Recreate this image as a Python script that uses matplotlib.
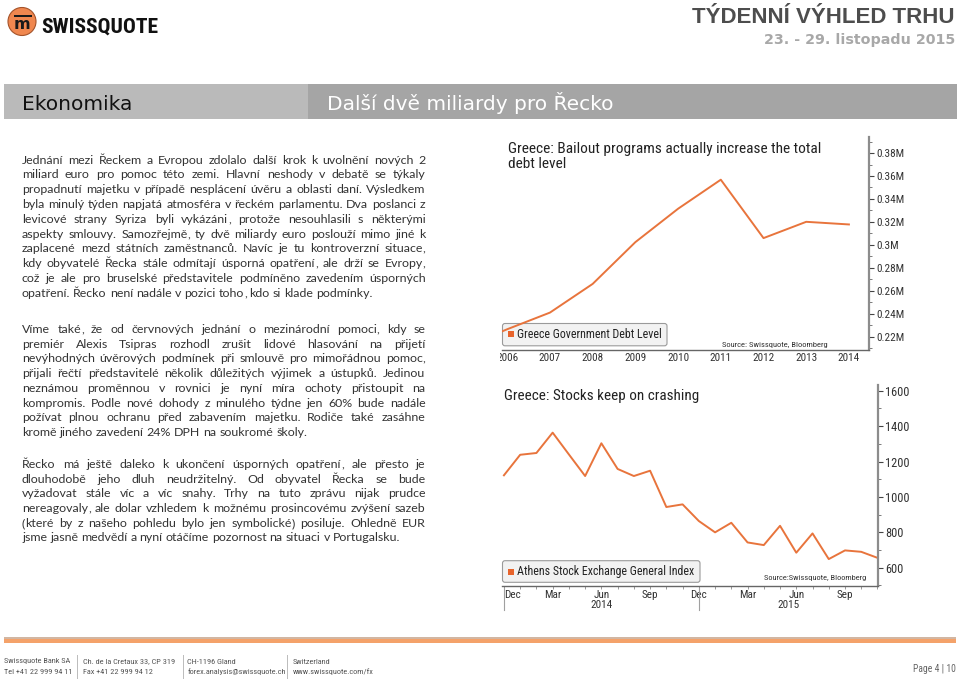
import matplotlib
matplotlib.use("Agg")
import matplotlib.pyplot as plt
import matplotlib.ticker as mticker
from matplotlib import font_manager as fm
from matplotlib.patches import Rectangle, Circle, FancyBboxPatch
from matplotlib.font_manager import FontProperties
from matplotlib.transforms import Bbox, TransformedBbox, blended_transform_factory

W, H = 960, 681
SANS = ['Liberation Sans', 'DejaVu Sans']
plt.rcParams['font.family'] = SANS

# pick a narrow face for the chart texts if one is installed
names = {f.name for f in fm.fontManager.ttflist}
cond_dejavu = any(f.name == 'DejaVu Sans' and f.stretch == 'condensed'
                  for f in fm.fontManager.ttflist)
if 'Roboto Condensed' in names:
    CH = {'family': 'Roboto Condensed'}
elif cond_dejavu:
    CH = {'family': 'DejaVu Sans', 'stretch': 'condensed'}
else:
    CH = {'family': 'Liberation Sans'}
BODY = 'Lato' if 'Lato' in names else 'DejaVu Sans'

# ---- data ----
debt_years = [2005, 2006, 2007, 2008, 2009, 2010, 2011, 2012, 2013, 2014]
debt_level = [0.211, 0.2265, 0.241, 0.266, 0.3024, 0.3315, 0.3568, 0.3059, 0.3201, 0.3178]
debt_ticks = [0.22, 0.24, 0.26, 0.28, 0.30, 0.32, 0.34, 0.36, 0.38]
year_ticks = [2006, 2007, 2008, 2009, 2010, 2011, 2012, 2013, 2014]

# monthly, Dec 2013 .. Nov 2015
ase_month = list(range(24))
ase_index = [1122, 1238, 1248, 1363, 1240, 1118, 1303, 1158, 1118, 1148, 943, 958,
             864, 800, 854, 743, 728, 837, 685, 794, 649, 698, 690, 656]
ase_ticks = [600, 800, 1000, 1200, 1400, 1600]
month_pos = [0, 3, 6, 9, 12, 15, 18, 21]
month_lbl = ['Dec', 'Mar', 'Jun', 'Sep', 'Dec', 'Mar', 'Jun', 'Sep']
year_starts = [0, 12]
year_lbl = ['2014', '2015']

para1 = [
    "Jednání mezi Řeckem a Evropou zdolalo další krok k uvolnění nových 2",
    "miliard euro pro pomoc této zemi. Hlavní neshody v debatě se týkaly",
    "propadnutí majetku v případě nesplácení úvěru a oblasti daní. Výsledkem",
    "byla minulý týden napjatá atmosféra v řeckém parlamentu. Dva poslanci z",
    "levicové strany Syriza byli vykázáni, protože nesouhlasili s některými",
    "aspekty smlouvy. Samozřejmě, ty dvě miliardy euro poslouží mimo jiné k",
    "zaplacené mezd státních zaměstnanců. Navíc je tu kontroverzní situace,",
    "kdy obyvatelé Řecka stále odmítají úsporná opatření, ale drží se Evropy,",
    "což je ale pro bruselské představitele podmíněno zavedením úsporných",
    "opatření. Řecko není nadále v pozici toho, kdo si klade podmínky.",
]
para2 = [
    "Víme také, že od červnových jednání o mezinárodní pomoci, kdy se",
    "premiér Alexis Tsipras rozhodl zrušit lidové hlasování na přijetí",
    "nevýhodných úvěrových podmínek při smlouvě pro mimořádnou pomoc,",
    "přijali řečtí představitelé několik důležitých výjimek a ústupků. Jedinou",
    "neznámou proměnnou v rovnici je nyní míra ochoty přistoupit na",
    "kompromis. Podle nové dohody z minulého týdne jen 60% bude nadále",
    "požívat plnou ochranu před zabavením majetku. Rodiče také zasáhne",
    "kromě jiného zavedení 24% DPH na soukromé školy.",
]
para3 = [
    "Řecko má ještě daleko k ukončení úsporných opatření, ale přesto je",
    "dlouhodobě jeho dluh neudržitelný. Od obyvatel Řecka se bude",
    "vyžadovat stále víc a víc snahy. Trhy na tuto zprávu nijak prudce",
    "nereagovaly, ale dolar vzhledem k možnému prosincovému zvýšení sazeb",
    "(které by z našeho pohledu bylo jen symbolické) posiluje. Ohledně EUR",
    "jsme jasně medvědí a nyní otáčíme pozornost na situaci v Portugalsku.",
]


def box(l, t, r, b):
    return [l / W, 1 - b / H, (r - l) / W, (b - t) / H]


fig = plt.figure(figsize=(9.6, 6.81), dpi=100, facecolor='white')
bg = fig.add_axes([0, 0, 1, 1])
bg.set_xlim(0, W)
bg.set_ylim(H, 0)
bg.set_axis_off()
renderer = fig.canvas.get_renderer()


def fit(t, width):
    # scale font so the text spans the width seen in the reference
    w = t.get_window_extent(renderer).width
    t.set_fontsize(t.get_fontsize() * width / w)
    return t.get_fontsize()


def size_for(s, width, **kw):
    t = bg.text(0, 0, s, fontsize=10, **kw)
    w = t.get_window_extent(renderer).width
    t.remove()
    return 10 * width / w


# ---- header ----
bg.add_patch(Circle((22, 21.5), 14, fc='#f0874f', ec='#a4532a', lw=0.8))
bg.add_patch(Rectangle((13.5, 14.6), 18, 2.6, fc='#1a1a1a'))
bg.text(22, 24.3, 'm', ha='center', va='center', fontsize=11.5, weight='bold',
        color='#1a1a1a', family='DejaVu Sans')
fit(bg.text(41.7, 32.3, 'SWISSQUOTE', va='baseline', fontsize=16, weight='bold',
            color='#111111', **CH), 117.3)

bg.text(955, 23.3, 'TÝDENNÍ VÝHLED TRHU', ha='right', va='baseline', fontsize=16,
        weight='bold', color='#4d4d4d')
bg.text(955, 44.3, '23. - 29. listopadu 2015', ha='right', va='baseline', fontsize=10.3,
        weight='bold', color='#a8a8a8', family='DejaVu Sans')

bg.add_patch(Rectangle((4, 84), 304, 35, fc='#bababa', ec='none'))
bg.add_patch(Rectangle((308, 84), 649, 35, fc='#a5a5a5', ec='none'))
bg.text(22, 110, 'Ekonomika', va='baseline', fontsize=14.5, color='#111111', family='DejaVu Sans')
bg.text(327, 110, 'Další dvě miliardy pro Řecko', va='baseline', fontsize=14.5,
        color='white', family='DejaVu Sans')


# ---- body text, justified word by word ----
def pieces(word):
    # commas / brackets go in their own text so the word keeps its baseline
    head, tail = '', ''
    if word.startswith('('):
        head, word = '(', word[1:]
    if word.endswith(',') or word.endswith(')'):
        word, tail = word[:-1], word[-1]
    return [p for p in (head, word, tail) if p]


def justify(lines, y0, dy, x0=22, x1=425.5):
    for i, line in enumerate(lines):
        words = line.split()
        y = round(y0 + i * dy)
        groups = []
        for w in words:
            parts = []
            for p in pieces(w):
                t = bg.text(0, y, p, va='baseline', fontsize=8.9, color='#333333', family=BODY)
                parts.append((t, t.get_window_extent(renderer).width))
            groups.append(parts)
        widths = [sum(pw for _, pw in g) for g in groups]
        if i == len(lines) - 1:
            gap = 3.0
        else:
            gap = (x1 - x0 - sum(widths)) / (len(words) - 1)
        x = x0
        for g, w in zip(groups, widths):
            xp = x
            for t, pw in g:
                t.set_x(xp)
                xp += pw
            x += w + gap


justify(para1, 163.7, 14.8)
justify(para2, 333.0, 14.72)
justify(para3, 468.0, 14.67)

# ---- chart 1: debt level ----
t1 = bg.text(508, 149.3, 'Greece: Bailout programs actually increase the total', va='center',
             fontsize=10, color='#222222', **CH)
fs = fit(t1, 311)
bg.text(508, 164, 'debt level', va='center', fontsize=fs, color='#222222', **CH)
bg.add_patch(FancyBboxPatch((502.5, 323.5), 164.5, 22.3,
                            boxstyle='round,pad=0,rounding_size=2.5',
                            fc='#f2f2f2', ec='#9a9a9a', lw=0.8))
bg.add_patch(Rectangle((508.3, 331.2), 6, 6, fc='#e8642c', ec='none'))
fit(bg.text(517, 334.5, 'Greece Government Debt Level', va='center', fontsize=8,
            color='#222222', **CH), 144.5)
fit(bg.text(721.7, 345.3, 'Source: Swissquote, Bloomberg', va='center', fontsize=6,
            color='#333333', **CH), 106)

ylab_fp = FontProperties(size=size_for('0.38M', 28, **CH), **CH)
xlab_fp = FontProperties(size=size_for('2007', 21.7, **CH), **CH)

ax1 = fig.add_axes(box(501.7, 137, 869, 350))
ax1.patch.set_visible(False)
ax1.plot(debt_years, debt_level, color='#e8743c', lw=1.4)
ax1.set_xlim(2005.87, 2014.47)
ax1.set_ylim(0.2084, 0.394)
ax1.yaxis.tick_right()
ax1.set_yticks(debt_ticks, labels=[f"{v:g}M" for v in debt_ticks],
               fontproperties=ylab_fp, color='#333333')
ax1.yaxis.set_minor_locator(mticker.MultipleLocator(0.01))
ax1.set_xticks(year_ticks, labels=[str(y) for y in year_ticks],
               fontproperties=xlab_fp, color='#333333')
for s in ['left', 'top']:
    ax1.spines[s].set_visible(False)
ax1.spines['right'].set_color('#8c8c8c')
ax1.spines['right'].set_linewidth(1.6)
ax1.spines['bottom'].set_color('#666666')
ax1.spines['bottom'].set_linewidth(1.0)
ax1.tick_params(axis='y', which='major', length=3.5, width=0.8, color='#444444', pad=1.5)
ax1.tick_params(axis='y', which='minor', length=2, width=0.6, color='#666666')
ax1.tick_params(axis='x', length=0, pad=2.5)
cb = TransformedBbox(Bbox([[500 / W, 0], [1, 1]]), fig.transFigure)
for t in ax1.xaxis.get_major_ticks():
    t.label1.set_clip_box(cb)
    t.label1.set_clip_on(True)

# ---- chart 2: Athens stock exchange ----
fit(bg.text(504, 396, 'Greece: Stocks keep on crashing', va='center', fontsize=10,
            color='#222222', **CH), 194)
bg.add_patch(FancyBboxPatch((502.5, 560.7), 197.5, 21.6,
                            boxstyle='round,pad=0,rounding_size=2.5',
                            fc='#f2f2f2', ec='#9a9a9a', lw=0.8))
bg.add_patch(Rectangle((508.3, 569), 6, 6, fc='#e8642c', ec='none'))
fit(bg.text(517, 572, 'Athens Stock Exchange General Index', va='center', fontsize=8,
            color='#222222', **CH), 177)
fit(bg.text(764, 578.3, 'Source:Swissquote, Bloomberg', va='center', fontsize=6,
            color='#333333', **CH), 103)

ylab2_fp = FontProperties(size=size_for('1600', 24, **CH), **CH)

ax2 = fig.add_axes(box(502.3, 385, 878.3, 586))
ax2.patch.set_visible(False)
ax2.plot(ase_month, ase_index, color='#e8743c', lw=1.4)
xmax = 23.05
ax2.set_xlim(-0.1, xmax)
ax2.set_ylim(497, 1632)
ax2.yaxis.tick_right()
ax2.set_yticks(ase_ticks, labels=[str(v) for v in ase_ticks],
               fontproperties=ylab2_fp, color='#333333')
ax2.yaxis.set_minor_locator(mticker.MultipleLocator(100))
ax2.set_xticks(month_pos, labels=month_lbl, fontproperties=xlab_fp, color='#333333')
ax2.xaxis.set_minor_locator(mticker.MultipleLocator(1))
for s in ['left', 'top']:
    ax2.spines[s].set_visible(False)
ax2.spines['right'].set_color('#8c8c8c')
ax2.spines['right'].set_linewidth(1.6)
ax2.spines['bottom'].set_color('#666666')
ax2.spines['bottom'].set_linewidth(1.0)
ax2.tick_params(axis='y', which='major', length=3.5, width=0.8, color='#444444', pad=1.5)
ax2.tick_params(axis='y', which='minor', length=2, width=0.6, color='#666666')
ax2.tick_params(axis='x', which='both', length=2, width=0.6, color='#888888', pad=1.2)
ax2.get_xticklabels()[0].set_ha('left')

trans = blended_transform_factory(ax2.transData, ax2.transAxes)
for xs in year_starts:
    ax2.plot([xs, xs], [-0.01, -0.12], transform=trans, color='#a0a0a0', lw=0.8, clip_on=False)
year_mid = [(year_starts[0] + year_starts[1]) / 2, (year_starts[1] + xmax) / 2]
for xm, lbl in zip(year_mid, year_lbl):
    ax2.text(xm, -0.095, lbl, transform=trans, ha='center', va='center',
             fontproperties=xlab_fp, color='#333333')

# ---- footer ----
bg.add_patch(Rectangle((4, 636.5), 952, 2.5, fc='#d2b6a2', ec='none'))
bg.add_patch(Rectangle((4, 639), 952, 4, fc='#f4a26a', ec='none'))
footer = [
    (4, 'Swissquote Bank SA', 'Tel +41 22 999 94 11'),
    (82.7, 'Ch. de la Cretaux 33, CP 319', 'Fax +41 22 999 94 12'),
    (187.3, 'CH-1196 Gland', 'forex.analysis@swissquote.ch'),
    (292.7, 'Switzerland', 'www.swissquote.com/fx'),
]
ffs = size_for('Swissquote Bank SA', 66, **CH)
for x, a, b in footer:
    bg.text(x, 661.5, a, va='center', fontsize=ffs, color='#555555', **CH)
    bg.text(x, 671.5, b, va='center', fontsize=ffs, color='#555555', **CH)
for x in [77.3, 182.7, 287.3]:
    bg.plot([x, x], [655, 678], color='#bbbbbb', lw=0.7)
fit(bg.text(956, 669, 'Page 4 | 10', ha='right', va='center', fontsize=7, color='#666666',
            **CH), 43)

fig.savefig('out.png', dpi=100, facecolor='white')
